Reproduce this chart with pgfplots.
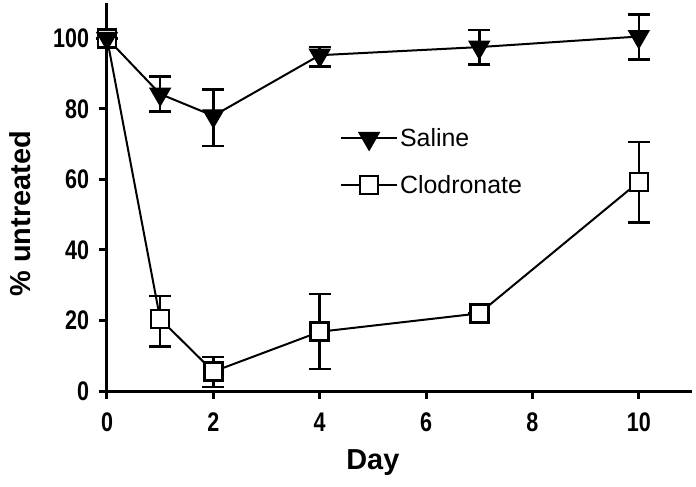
\documentclass[border=0pt]{standalone}
\usepackage{pgfplots}
\pgfplotsset{compat=1.18}
\usepackage{fontspec}
\setmainfont{Liberation Sans}
\begin{document}
\begin{tikzpicture}[x=1bp,y=1bp]
\begin{axis}[
  at={(0,0)}, anchor=south west,
  scale only axis,
  width=585bp, height=388bp,
  xmin=0, xmax=11, ymin=0, ymax=110,
  axis x line=bottom, axis y line=left,
  axis line style={line width=3bp, -},
  xtick={0,2,4,6,8,10}, ytick={0,20,40,60,80,100},
  tick align=outside, major tick length=8bp,
  tick style={line width=3bp, black},
  /pgf/number format/assume math mode=true,
  tick label style={font=\fontsize{27}{27}\selectfont\bfseries, xscale=0.8},
  yticklabel style={xshift=-9bp},
  xticklabel style={yshift=-10bp},
  xlabel={Day}, ylabel={\% untreated},
  xlabel style={font=\fontsize{29}{29}\selectfont\bfseries, at={(axis description cs:0.4545,0)}, anchor=center, yshift=-72bp},
  ylabel style={font=\fontsize{29}{29}\selectfont\bfseries, at={(axis description cs:-0.149,0.457)}, anchor=center},
  clip=false,
  legend style={at={(axis cs:4.38,75)}, anchor=north west, draw=none, fill=none,
    font=\fontsize{25}{25}\selectfont, row sep=23bp, inner sep=0pt},
  legend cell align=left,
  reverse legend,
  legend image code/.code={\draw[mark repeat=2,mark phase=2,line width=2bp] plot coordinates {(0bp,0bp)(28bp,0bp)(56bp,0bp)};},
  error bars/y dir=both, error bars/y explicit,
  error bars/error bar style={line width=2.5bp, black},
  error bars/error mark options={rotate=90, mark size=11bp, line width=2.5bp, black},
]
\addplot[black, line width=2bp, mark=square*, mark size=9bp,
  mark options={fill=white, draw=black, line width=2.5bp}]
  coordinates {
  (0,100) +- (0,0)
  (1,20.4) += (0,6.6) -= (0,7.8)
  (2,5.5) += (0,4.2) -= (0,4.3)
  (4,16.8) += (0,10.7) -= (0,10.6)
  (7,22) +- (0,0)
  (10,59.3) += (0,11.3) -= (0,11.6)
  };
\addlegendentry{Clodronate}
\addplot[black, line width=2bp, mark=triangle*, mark size=12bp,
  mark options={fill=black, draw=black, rotate=180, line width=1bp}]
  coordinates {
  (0,100) +- (0,0)
  (1,84.2) += (0,5) -= (0,5)
  (2,78) += (0,7.5) -= (0,8.6)
  (4,95.2) += (0,2.3) -= (0,3.2)
  (7,97.5) += (0,4.8) -= (0,4.9)
  (10,100.5) += (0,6.3) -= (0,6.5)
  };
\addlegendentry{Saline}
\end{axis}
\pgfresetboundingbox
\path[use as bounding box] (-107bp,-96bp) rectangle (589bp,391bp);
\end{tikzpicture}
\end{document}
